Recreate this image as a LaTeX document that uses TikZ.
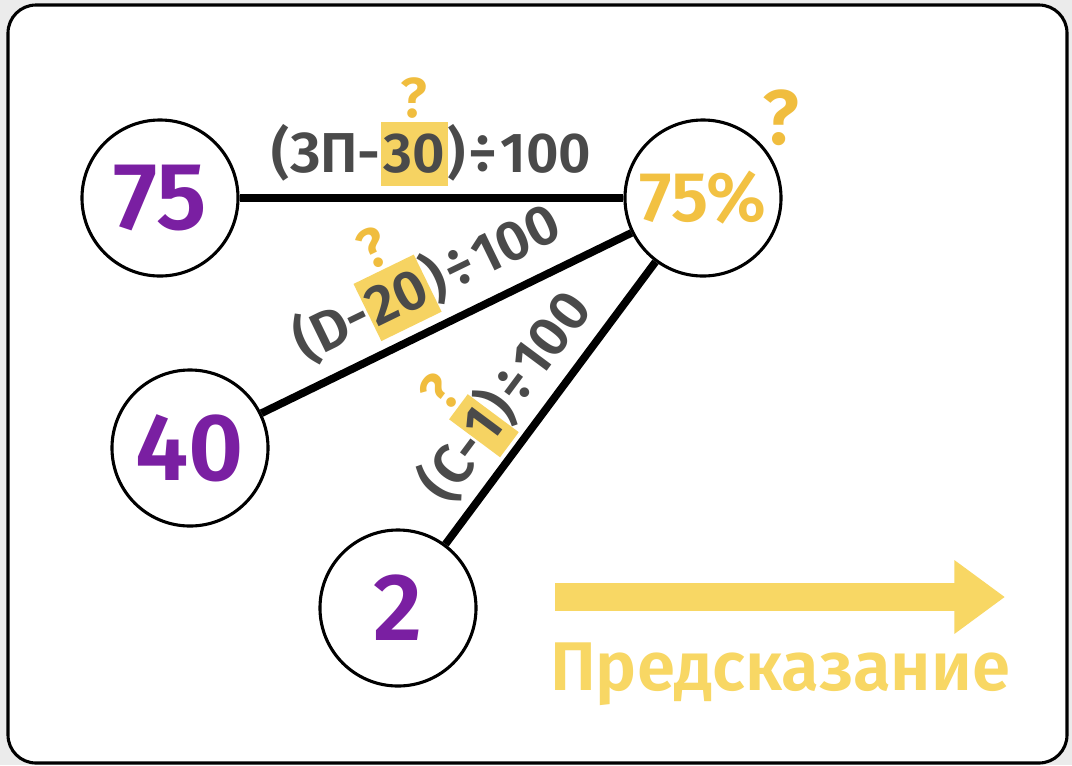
\documentclass[tikz,border=0pt]{standalone}
\usepackage{fontspec}
\setmainfont{Fira Sans}
\newfontfamily\labelfont{Fira Sans SemiBold}
\usetikzlibrary{arrows.meta}

\definecolor{numpurple}{RGB}{122,31,162}
\definecolor{labelgray}{RGB}{74,74,74}
\definecolor{hilite}{RGB}{246,211,98}
\definecolor{qyellow}{RGB}{240,189,62}
\definecolor{resyellow}{RGB}{242,193,66}
\definecolor{predyellow}{RGB}{248,215,100}
\definecolor{pagegray}{RGB}{235,235,235}

% yellow box round a coefficient, with a question mark on top
\newcommand\guess[1]{%
  \setbox0=\hbox{\fboxsep=0pt\colorbox{hilite}{\hspace{0.05em}\rule[-0.24em]{0pt}{1.13em}#1\hspace{0.05em}}}%
  \rlap{\hbox to\wd0{\hss\raisebox{\dimexpr\ht0+3pt\relax}{\color{qyellow}?}\hss}}\box0}
\newcommand\divby{\hspace{0.05em}÷\hspace{0.05em}}

\tikzset{
  value/.style={circle, draw, line width=2.2pt, minimum size=3.9cm, inner sep=0pt,
    font=\labelfont\fontsize{68}{68}\selectfont, text=numpurple},
  link/.style={line width=5.5pt},
  rule/.style={font=\labelfont\fontsize{40}{40}\selectfont, text=labelgray,
    inner xsep=2pt, inner ysep=6pt, sloped, above},
}

\begin{document}
\begin{tikzpicture}[x=0.025cm, y=-0.025cm]

\fill[pagegray] (0,0) rectangle (1072,765);
\useasboundingbox (0,0) rectangle (1072,765);
\draw[line width=2.2pt, fill=white, rounded corners=0.7cm] (8,5) rectangle (1067,763);

\node [value] (n75) at (160,198) {75};
\node [value] (n40) at (190,448) {40};
\node [value] (n2)  at (398,608) {2};
\node [value, text=resyellow, font=\labelfont\fontsize{50}{50}\selectfont] (res) at (703,198) {75\%};
\node [text=qyellow, font=\labelfont\fontsize{55}{55}\selectfont, inner sep=0pt]
  (resq) at ([shift={(22,-24)}]res.north east) {?};

\draw[link] (n75) -- node[rule] (r75) {(ЗП-\guess{30})\divby100} (res);
\draw[link] (n40) -- node[rule] (r40) {(D-\guess{20})\divby100} (res);
\draw[link] (n2)  -- node[rule, pos=0.44, inner ysep=3pt] (r2) {(C-\guess{1})\divby100} (res);

% prediction arrow
\coordinate (arrS) at (555,597);
\coordinate (arrE) at (1005,597);
\draw[predyellow, line width=20.5pt, -{Triangle[width=50pt,length=36pt]}] (arrS) -- (arrE);
\node [anchor=base, text=predyellow, font=\labelfont\fontsize{49}{49}\selectfont]
  (pred) at (780,690) {Предсказание};

\end{tikzpicture}
\end{document}
